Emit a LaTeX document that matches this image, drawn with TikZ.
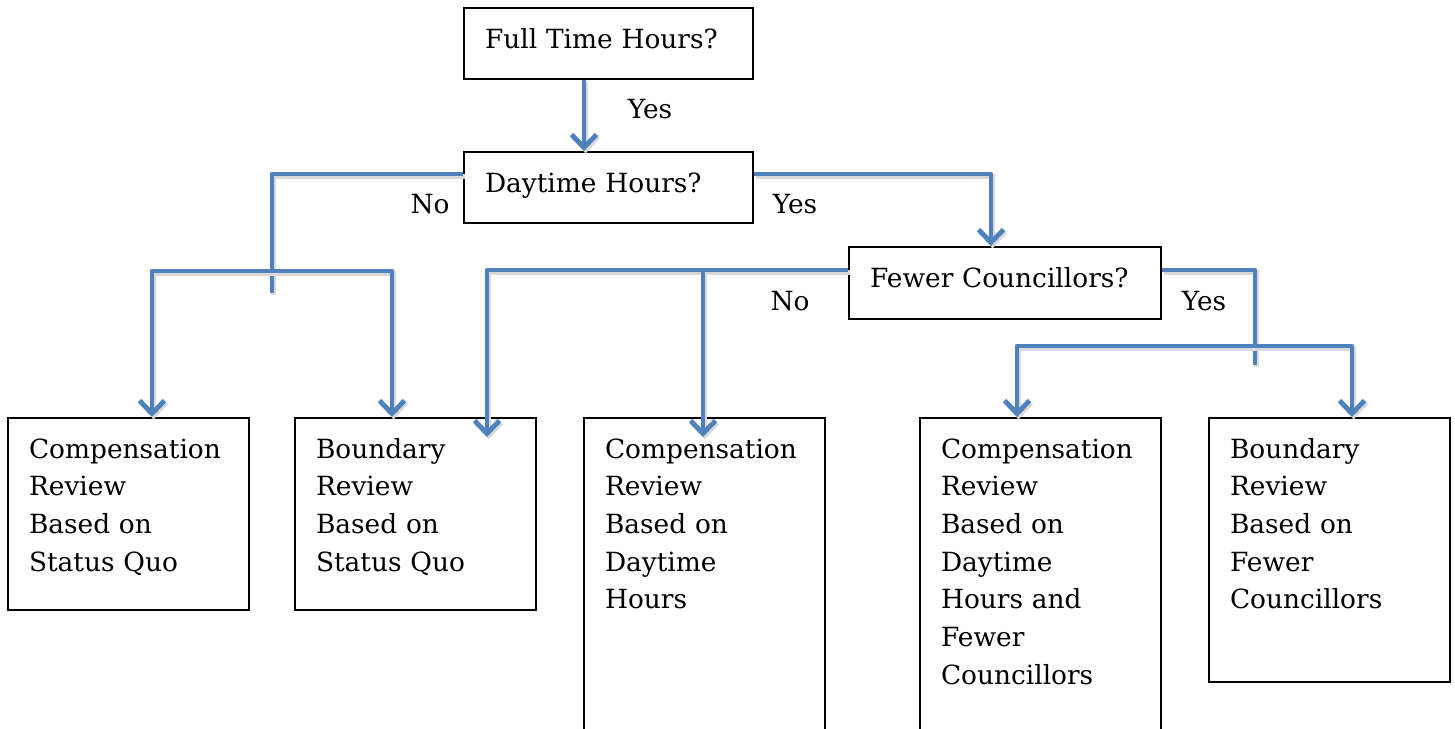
\documentclass[tikz,border=0pt]{standalone}
\usepackage{fontspec}
\setmainfont{DejaVu Serif}
\usepackage{tikz}
\usetikzlibrary{arrows.meta,calc,positioning}
\definecolor{flowblue}{RGB}{79,129,189}

\begin{document}
\begin{tikzpicture}[x=0.5pt,y=-0.5pt,
		qbox/.style={draw, line width=1pt, anchor=north west, align=left,
			inner xsep=10.5pt, inner ysep=0pt, text height=20pt,
			font=\fontsize{13.2}{18.85}\selectfont},
		leaf/.style={qbox, text width=99.5pt},
		answer/.style={anchor=base, inner sep=0pt, font=\fontsize{13.2}{18.85}\selectfont},
		flow/.style={draw=flowblue, line width=2.4pt, line join=round,
			preaction={draw=black!15, line width=2.7pt,
				transform canvas={shift={(0.8pt,-1.2pt)}}}},
		>={Straight Barb[length=6.5pt,width=12.5pt]}]
	\useasboundingbox (0,0) rectangle (1455,728);
	% questions
	\node[qbox, text width=123.5pt, text depth=15.5pt] (full) at (463,7) {Full Time Hours?};
	\node[qbox, text width=123.5pt, text depth=15.5pt] (day) at (463,151) {Daytime Hours?};
	\node[qbox, text width=135pt, text depth=16pt] (fewer) at (848,246) {Fewer Councillors?};
	% outcomes
	\node[leaf, text depth=76pt] (compSQ) at (7,417) {Compensation\\Review\\Based on\\Status Quo};
	\node[leaf, text depth=76pt] (boundSQ) at (294,417) {Boundary\\Review\\Based on\\Status Quo};
	\node[leaf, text depth=142pt] (compDT) at (583,417) {Compensation\\Review\\Based on\\Daytime\\Hours};
	\node[leaf, text depth=142pt] (compDTF) at (919,417) {Compensation\\Review\\Based on\\Daytime\\Hours and\\Fewer\\Councillors};
	\node[leaf, text depth=112pt] (boundF) at (1208,417) {Boundary\\Review\\Based on\\Fewer\\Councillors};
	% answers
	\node[answer] (yes1) at (650,118) {Yes};
	\node[answer] (no1) at (430,213) {No};
	\node[answer] (yes2) at (795,213) {Yes};
	\node[answer] (no2) at (790,310) {No};
	\node[answer] (yes3) at (1204,310) {Yes};
	% junctions
	\coordinate (jL) at (272,271);
	\coordinate (jM) at (703,270);
	\coordinate (jR) at (1255,346);
	% connectors
	\draw[flow,->] ($(full.south west)+(121,0)$) -- ($(day.north west)+(121,0)$);
	\draw[flow] ($(day.north west)+(0,23)$) -| (jL) -- ++(0,22);
	\draw[flow,<->] ($(compSQ.north west)+(145,0)$) |- (jL) -| ($(boundSQ.north west)+(98,0)$);
	\draw[flow,->] ($(day.north east)+(0,23)$) -| ($(fewer.north west)+(143,0)$);
	\draw[flow,<-] ($(boundSQ.north west)+(193,20)$) |- ($(fewer.north west)+(0,24)$);
	\draw[flow,->] (jM) -- ($(compDT.north west)+(120,20)$);
	\draw[flow] ($(fewer.north east)+(0,24)$) -| (jR) -- ++(0,19);
	\draw[flow,<->] ($(compDTF.north west)+(98,0)$) |- (jR) -| ($(boundF.north west)+(144,0)$);
\end{tikzpicture}
\end{document}
